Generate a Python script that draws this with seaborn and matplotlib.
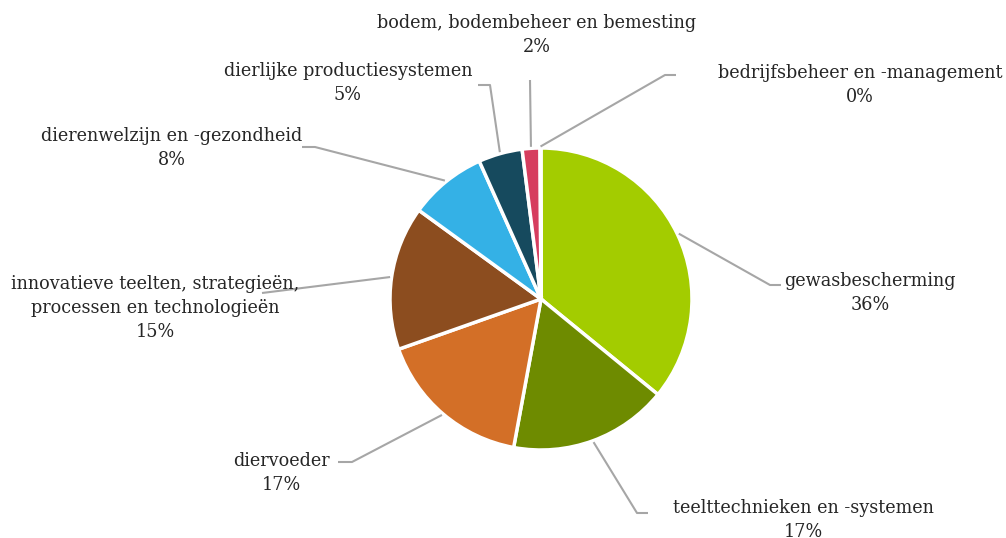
"""
Taartdiagram: verdeling onderzoeksthema's (percentages per thema).
"""

import numpy as np
import matplotlib
matplotlib.use("Agg")
import matplotlib.pyplot as plt
import seaborn as sns

# Data
categories = [
    "gewasbescherming",
    "teelttechnieken en -systemen",
    "diervoeder",
    "innovatieve teelten, strategieën,\nprocessen en technologieën",
    "dierenwelzijn en -gezondheid",
    "dierlijke productiesystemen",
    "bodem, bodembeheer en bemesting",
    "bedrijfsbeheer en -management",
]
shares = [35.9, 17.0, 16.7, 15.4, 8.3, 4.7, 1.9, 0.1]
colors = ["#A3CC00", "#6E8B00", "#D36F27", "#8C4D1F", "#34B1E6",
          "#164A5E", "#D63D5E", "#8FB3C7"]

# Layout (pixels, oorsprong linksboven): tekstmidden, knik, einde lijn
W, H = 1006, 538
text_pos = [(870, 293), (803, 520), (281, 473), (155, 308),
            (172, 148), (348, 83), (537, 35), (860, 85)]
elbows = [(770, 285), (637, 513), (352, 462), (262, 293),
          (315, 147), (490, 85), (530, 80), (665, 75)]
ends = [(781, 285), (648, 513), (338, 462), (262, 293),
        (302, 147), (478, 85), (530, 80), (676, 75)]

center = (541, H - 299)
radius = 151

sns.set_theme(style="white")
plt.rcParams["font.family"] = ["DejaVu Serif"]

fig = plt.figure(figsize=(W / 100, H / 100), dpi=100)
ax = fig.add_axes([0, 0, 1, 1])

wedges, _ = ax.pie(shares, colors=colors, startangle=90, counterclock=False,
                   center=center, radius=radius,
                   wedgeprops=dict(edgecolor="white", linewidth=2.5))
ax.set_xlim(0, W)
ax.set_ylim(0, H)
ax.set_aspect("equal")
ax.axis("off")

line_color = "#A6A6A6"
for w, cat, val, tp, el, en in zip(wedges, categories, shares, text_pos, elbows, ends):
    mid = np.deg2rad((w.theta1 + w.theta2) / 2)
    ax_x = center[0] + (radius + 1.5) * np.cos(mid)
    ax_y = center[1] + (radius + 1.5) * np.sin(mid)
    ax.plot([ax_x, el[0], en[0]], [ax_y, H - el[1], H - en[1]],
            color=line_color, lw=1.5, solid_capstyle="butt", zorder=1)
    label = f"{cat}\n{round(val)}%"
    ax.text(tp[0], H - tp[1], label, ha="center", va="center",
            multialignment="center", fontsize=12.7, linespacing=1.4,
            color="#262626")

fig.savefig("out.png", dpi=100)
